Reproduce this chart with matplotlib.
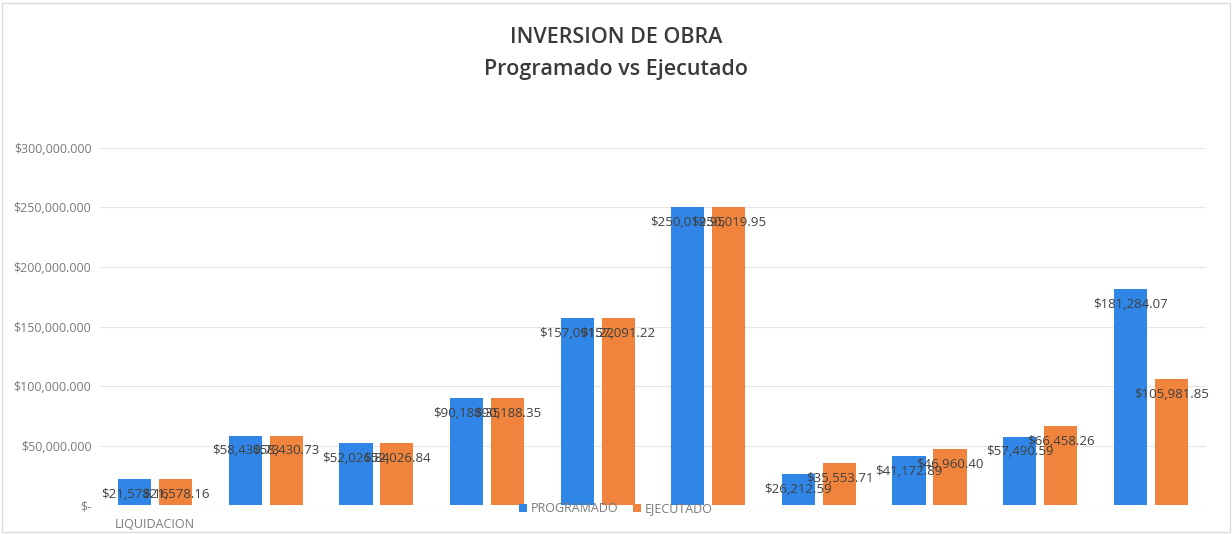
import matplotlib.pyplot as plt
import numpy as np
from matplotlib.patches import Rectangle

categories = ["LIQUIDACION", "", "", "", "", "", "", "", "", ""]
programado = [21578160, 58430730, 52026840, 90188350, 157091220,
              250019950, 26212590, 41172890, 57490590, 181284070]
ejecutado = [21578160, 58430730, 52026840, 90188350, 157091220,
             250019950, 35553710, 46960400, 66458260, 105981850]
yticks = [0, 50000000, 100000000, 150000000, 200000000, 250000000, 300000000]
ytick_labels = ["$-", "$50,000.000", "$100,000.000", "$150,000.000",
                "$200,000.000", "$250,000.000", "$300,000.000"]

blue = '#2f86e6'
orange = '#f0843c'

plt.rcParams['font.family'] = ['Open Sans', 'DejaVu Sans']
fig = plt.figure(figsize=(12.32, 5.34), dpi=100)
ax = fig.add_axes([0.081, 0.054, 0.898, 0.669])

x = np.arange(len(categories))
w = 0.30
off = 0.185
bp = ax.bar(x - off, programado, w, color=blue, label='PROGRAMADO', zorder=3)
be = ax.bar(x + off, ejecutado, w, color=orange, label='EJECUTADO', zorder=3)


def fmt(v):
    return "${:,.2f}".format(v / 1000)


for bars, vals in ((bp, programado), (be, ejecutado)):
    for b, v in zip(bars, vals):
        ax.annotate(fmt(v), (b.get_x() + b.get_width() / 2, v),
                    xytext=(0, -11), textcoords='offset points',
                    ha='center', va='center', fontsize=9.5, color='#404040',
                    zorder=4)

ax.set_xlim(-0.5, len(categories) - 0.5)
ax.set_ylim(0, 300000000)
ax.set_yticks(yticks)
ax.set_yticklabels(ytick_labels, fontsize=9, color='#7a7a7a')
ax.set_xticks(x)
ax.set_xticklabels(categories, fontsize=9, color='#7a7a7a')
ax.tick_params(axis='both', length=0, pad=6)
ax.tick_params(axis='x', pad=9)
ax.grid(axis='y', color='#e6e6e6', linewidth=0.8, zorder=0)
for s in ax.spines.values():
    s.set_visible(False)

fig.text(0.5, 1 - 37 / 534, 'INVERSION DE OBRA', ha='center', va='center',
         fontsize=15.5, fontweight='semibold', color='#3a3a3a')
fig.text(0.5, 1 - 70 / 534, 'Programado vs Ejecutado', ha='center', va='center',
         fontsize=15.5, fontweight='semibold', color='#3a3a3a')

fig.legend(handles=[bp, be], loc='center', bbox_to_anchor=(0.5, 1 - 509 / 534),
           ncol=2, frameon=False, fontsize=9, handlelength=0.6, handleheight=0.6,
           columnspacing=1.2, handletextpad=0.3, labelcolor='#7a7a7a')

fig.patches.append(Rectangle((0.002, 0.004), 0.996, 0.99, transform=fig.transFigure,
                             fill=False, edgecolor='#dcdcdc', linewidth=1))

fig.savefig('out.png', dpi=100)
